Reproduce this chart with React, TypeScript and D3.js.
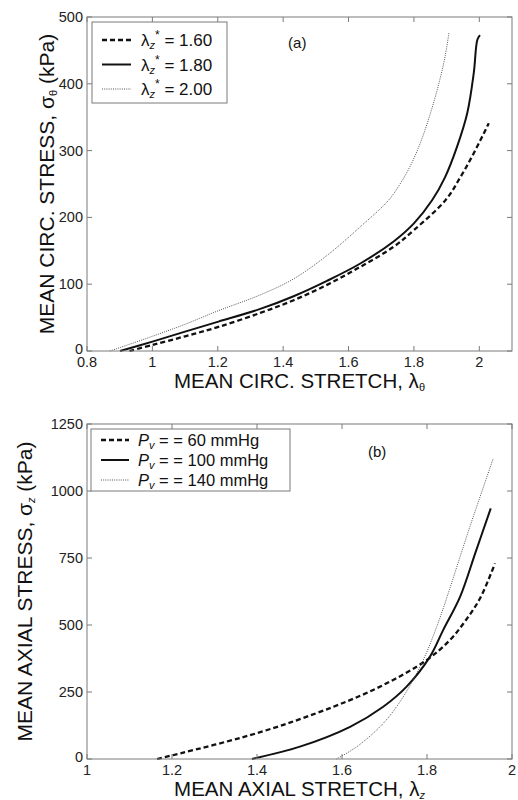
import React from "react";
import * as d3 from "d3";

// Panel (a): mean circumferential stress vs stretch for three axial pre-stretches
const circStretch160 = [0.93, 1.0, 1.1, 1.202, 1.33, 1.432, 1.534, 1.636, 1.738, 1.8, 1.897, 1.943, 1.983, 2.029];
const circStress160 = [0, 9, 22, 36, 57, 76, 99, 126, 156, 181, 226, 261, 296, 341];
const circStretch180 = [0.901, 1.0, 1.1, 1.202, 1.33, 1.432, 1.534, 1.636, 1.738, 1.8, 1.856, 1.895, 1.932, 1.963, 1.983, 1.994, 2.002];
const circStress180 = [0, 14, 29, 44, 63, 82, 105, 131, 164, 191, 226, 260, 306, 356, 416, 466, 473];
const circStretch200 = [0.87, 1.0, 1.1, 1.2, 1.33, 1.432, 1.534, 1.636, 1.723, 1.76, 1.79, 1.82, 1.85, 1.875, 1.895, 1.907];
const circStress200 = [0, 22, 40, 60, 84, 108, 143, 186, 226, 252, 278, 312, 355, 398, 440, 476];

// Panel (b): mean axial stress vs stretch for three pressures
const axStretch60 = [1.165, 1.399, 1.58, 1.697, 1.799, 1.854, 1.89, 1.925, 1.96];
const axStress60 = [0, 96, 195, 276, 369, 444, 515, 600, 730];
const axStretch100 = [1.388, 1.501, 1.619, 1.697, 1.752, 1.807, 1.838, 1.878, 1.915, 1.95];
const axStress100 = [0, 46, 120, 195, 270, 382, 481, 606, 775, 935];
const axStretch140 = [1.587, 1.635, 1.697, 1.744, 1.791, 1.823, 1.842, 1.901, 1.956];
const axStress140 = [0, 46, 133, 232, 369, 494, 580, 867, 1122];

const circTicksX = [0.8, 1, 1.2, 1.4, 1.6, 1.8, 2];
const circTicksY = [0, 100, 200, 300, 400, 500];
const axTicksX = [1, 1.2, 1.4, 1.6, 1.8, 2];
const axTicksY = [0, 250, 500, 750, 1000, 1250];

const starLabels = ["1.60", "1.80", "2.00"];
const pressureLabels = ["60", "100", "140"];

const FONT = "'Liberation Sans', Arial, Helvetica, sans-serif";
const AXIS = "#7a7a7a";

type Series = { xs: number[]; ys: number[]; style: "dash" | "solid" | "dot" };

const strokeProps = (style: Series["style"]) => {
  if (style === "dash") return { stroke: "#111", strokeWidth: 2.3, strokeDasharray: "5,3" };
  if (style === "solid") return { stroke: "#111", strokeWidth: 2 };
  return { stroke: "#555", strokeWidth: 1, strokeDasharray: "1,1.2" };
};

function Panel(props: {
  left: number; right: number; top: number; bottom: number;
  xDomain: [number, number]; yDomain: [number, number];
  xTicks: number[]; yTicks: number[];
  series: Series[];
  xTitle: React.ReactNode; yTitle: React.ReactNode; yTitleX: number;
  xTitleY: number;
  tag: string; tagAt: [number, number];
  legend: { box: [number, number, number, number]; rows: { y: number; label: React.ReactNode }[]; sample: [number, number]; textX: number; fontSize: number };
}) {
  const x = d3.scaleLinear().domain(props.xDomain).range([props.left, props.right]);
  const y = d3.scaleLinear().domain(props.yDomain).range([props.bottom, props.top]);
  const line = d3.line<[number, number]>().x((d) => x(d[0])).y((d) => y(d[1])).curve(d3.curveCatmullRom.alpha(0.5));
  const tl = 5;
  const lg = props.legend;
  return (
    <g fontFamily={FONT}>
      {props.series.map((s, i) => (
        <path key={i} d={line(s.xs.map((v, j) => [v, s.ys[j]] as [number, number])) || ""} fill="none" {...strokeProps(s.style)} />
      ))}
      <rect x={props.left} y={props.top} width={props.right - props.left} height={props.bottom - props.top} fill="none" stroke={AXIS} strokeWidth={1} />
      {props.xTicks.map((t) => (
        <g key={"x" + t}>
          <line x1={x(t)} x2={x(t)} y1={props.bottom} y2={props.bottom - tl} stroke={AXIS} />
          <line x1={x(t)} x2={x(t)} y1={props.top} y2={props.top + tl} stroke={AXIS} />
          <text x={x(t)} y={props.bottom + 16} fontSize={14.5} textAnchor="middle" fill="#222">{String(t)}</text>
        </g>
      ))}
      {props.yTicks.map((t) => (
        <g key={"y" + t}>
          <line x1={props.left} x2={props.left + tl} y1={y(t)} y2={y(t)} stroke={AXIS} />
          <line x1={props.right} x2={props.right - tl} y1={y(t)} y2={y(t)} stroke={AXIS} />
          <text x={props.left - 4} y={y(t) + (t === 0 ? 3 : 5)} fontSize={14.5} textAnchor="end" fill="#222">{String(t)}</text>
        </g>
      ))}
      <text x={(props.left + props.right) / 2} y={props.xTitleY} fontSize={20.5} textAnchor="middle" fill="#111">{props.xTitle}</text>
      <text transform={`translate(${props.yTitleX},${(props.top + props.bottom) / 2}) rotate(-90)`} fontSize={21} textAnchor="middle" fill="#111">{props.yTitle}</text>
      <text x={x(props.tagAt[0])} y={y(props.tagAt[1])} fontSize={15} fill="#111">{props.tag}</text>
      <rect x={lg.box[0]} y={lg.box[1]} width={lg.box[2]} height={lg.box[3]} fill="#fff" stroke={AXIS} />
      {lg.rows.map((r, i) => (
        <g key={i}>
          <line x1={lg.sample[0]} x2={lg.sample[1]} y1={r.y} y2={r.y} {...strokeProps(props.series[i].style)} />
          <text x={lg.textX} y={r.y + 6} fontSize={lg.fontSize} fill="#111">{r.label}</text>
        </g>
      ))}
    </g>
  );
}

export default function App() {
  const circSeries: Series[] = [
    { xs: circStretch160, ys: circStress160, style: "dash" },
    { xs: circStretch180, ys: circStress180, style: "solid" },
    { xs: circStretch200, ys: circStress200, style: "dot" },
  ];
  const axSeries: Series[] = [
    { xs: axStretch60, ys: axStress60, style: "dash" },
    { xs: axStretch100, ys: axStress100, style: "solid" },
    { xs: axStretch140, ys: axStress140, style: "dot" },
  ];
  return (
    <svg width={518} height={800} style={{ position: "absolute", left: 0, top: 0, background: "#fff" }}>
      <rect width={518} height={800} fill="#fff" />
      <Panel
        left={87} right={512} top={17} bottom={351}
        xDomain={[0.8, 2.1]} yDomain={[0, 500]}
        xTicks={circTicksX} yTicks={circTicksY}
        series={circSeries}
        xTitleY={388}
        xTitle={<>MEAN CIRC. STRETCH, λ<tspan fontSize={11} dy={3}>θ</tspan></>}
        yTitleX={54}
        yTitle={<>MEAN CIRC. STRESS, σ<tspan fontSize={11} dy={3}>θ</tspan><tspan dy={-3}> (kPa)</tspan></>}
        tag="(a)" tagAt={[1.415, 453]}
        legend={{
          box: [92, 22, 135, 81],
          sample: [102, 131],
          textX: 141,
          fontSize: 17,
          rows: starLabels.map((s, i) => ({
            y: 40 + i * 24.5,
            label: <>λ<tspan fontSize={11} fontStyle="italic" dy={3}>z</tspan><tspan fontSize={12} dy={-10}>*</tspan><tspan dy={7}>{" = " + s}</tspan></>,
          })),
        }}
      />
      <Panel
        left={87} right={512} top={424} bottom={759}
        xDomain={[1, 2]} yDomain={[0, 1250]}
        xTicks={axTicksX} yTicks={axTicksY}
        series={axSeries}
        xTitleY={796}
        xTitle={<>MEAN AXIAL STRETCH, λ<tspan fontSize={11} fontStyle="italic" dy={3}>z</tspan></>}
        yTitleX={32}
        yTitle={<>MEAN AXIAL STRESS, σ<tspan fontSize={11} fontStyle="italic" dy={3}>z</tspan><tspan dy={-3}> (kPa)</tspan></>}
        tag="(b)" tagAt={[1.661, 1127]}
        legend={{
          box: [91, 429, 199, 62],
          sample: [101, 129],
          textX: 138,
          fontSize: 16.5,
          rows: pressureLabels.map((p, i) => ({
            y: 440 + i * 20,
            label: <><tspan fontStyle="italic">P</tspan><tspan fontSize={11} fontStyle="italic" dy={3}>v</tspan><tspan dy={-3}>{" =  = " + p + " mmHg"}</tspan></>,
          })),
        }}
      />
    </svg>
  );
}
